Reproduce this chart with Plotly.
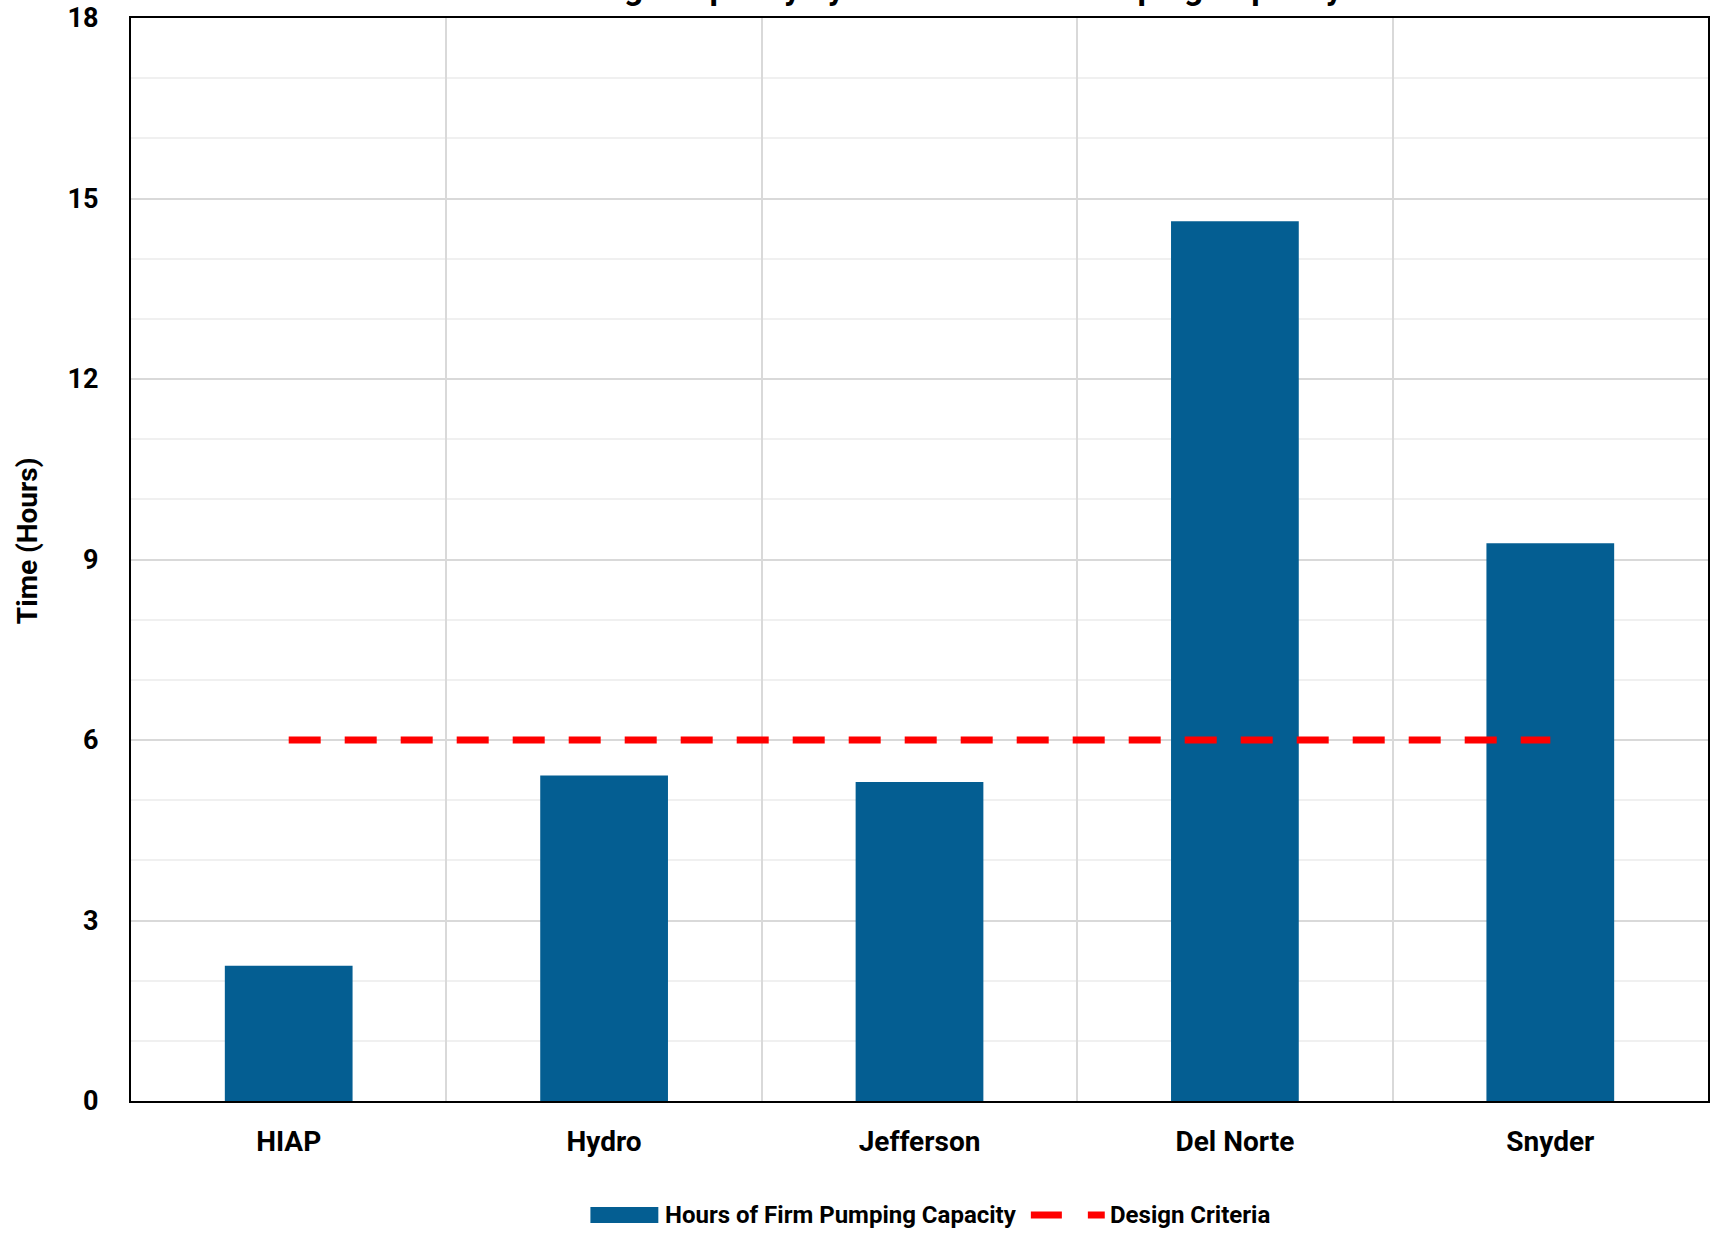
import plotly.graph_objects as go

# ---- data -------------------------------------------------------------
stations = ["HIAP", "Hydro", "Jefferson", "Del Norte", "Snyder"]
firm_pumping_hours = [2.25, 5.41, 5.30, 14.62, 9.27]
design_criteria_hours = [6, 6, 6, 6, 6]

title_text = "Storage Capacity by Hours of Firm Pumping Capacity"
y_title = "Time (Hours)"
bar_name = "Hours of Firm Pumping Capacity"
line_name = "Design Criteria"

# ---- styling ------------------------------------------------------------
BAR_COLOR = "#045E92"
LINE_COLOR = "#FF0000"
MAJOR_GRID = "#D9D9D9"
MINOR_GRID = "#F0F0F0"
FONT = "Roboto"

W, H = 1712, 1233
M_L, M_R, M_T, M_B = 131, 2, 18, 132
PW = W - M_L - M_R
PH = H - M_T - M_B


def fx(px):
    """page pixel column -> paper x"""
    return (px - M_L) / PW


def fy(py):
    """page pixel row -> paper y"""
    return (H - M_B - py) / PH


fig = go.Figure()

fig.add_trace(go.Bar(
    x=stations,
    y=firm_pumping_hours,
    name=bar_name,
    marker=dict(color=BAR_COLOR, line=dict(width=0)),
))

fig.add_trace(go.Scatter(
    x=stations,
    y=design_criteria_hours,
    name=line_name,
    mode="lines",
    line=dict(color=LINE_COLOR, width=7, dash="32px,24px"),
))

# hand-built legend below the plot
legend_y = fy(1215)
shapes = [
    dict(type="rect", xref="paper", yref="paper",
         x0=fx(591), x1=fx(659), y0=fy(1207), y1=fy(1223),
         fillcolor=BAR_COLOR, line=dict(width=0)),
    dict(type="line", xref="paper", yref="paper",
         x0=fx(1032), x1=fx(1106), y0=legend_y, y1=legend_y,
         line=dict(color=LINE_COLOR, width=7, dash="31px,26px")),
]

annotations = [
    dict(text=title_text, xref="paper", yref="paper",
         x=fx(945), y=fy(9), xanchor="center", yanchor="bottom",
         showarrow=False,
         font=dict(family=FONT, size=33.5, color="black", weight="bold")),
    dict(text=y_title, xref="paper", yref="paper",
         x=fx(27), y=fy(541), xanchor="center", yanchor="middle",
         textangle=-90, showarrow=False,
         font=dict(family=FONT, size=28, color="black", weight="bold")),
    dict(text=bar_name, xref="paper", yref="paper",
         x=fx(664), y=legend_y, xanchor="left", yanchor="middle",
         showarrow=False,
         font=dict(family=FONT, size=24, color="black", weight="bold")),
    dict(text=line_name, xref="paper", yref="paper",
         x=fx(1109), y=legend_y, xanchor="left", yanchor="middle",
         showarrow=False,
         font=dict(family=FONT, size=24, color="black", weight="bold")),
]

fig.update_layout(
    width=W, height=H,
    margin=dict(l=M_L, r=M_R, t=M_T, b=M_B, pad=0),
    paper_bgcolor="white",
    plot_bgcolor="white",
    showlegend=False,
    bargap=0.595,
    shapes=shapes,
    annotations=annotations,
    font=dict(family=FONT, color="black"),
)

fig.update_xaxes(
    type="category",
    showline=True, linecolor="black", linewidth=2, mirror=True,
    showgrid=True, gridcolor=MAJOR_GRID, gridwidth=2,
    tickson="boundaries", ticks="",
    ticklabelstandoff=14,
    tickfont=dict(family=FONT, size=28, color="black", weight="bold"),
)

fig.update_yaxes(
    range=[0, 18], tick0=0, dtick=3,
    showline=True, linecolor="black", linewidth=2, mirror=True,
    showgrid=True, gridcolor=MAJOR_GRID, gridwidth=2,
    zeroline=False, ticks="",
    ticklabelstandoff=25,
    tickfont=dict(family=FONT, size=27, color="black", weight="bold"),
    minor=dict(dtick=1, showgrid=True, gridcolor=MINOR_GRID, gridwidth=2),
)

fig.write_html("out.html")
